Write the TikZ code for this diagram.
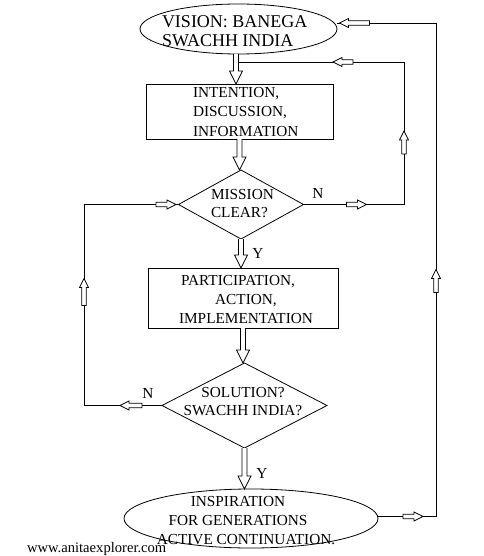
\documentclass[tikz,border=0pt]{standalone}
\usepackage{fontspec}
\setmainfont{Liberation Serif}
\usetikzlibrary{shapes.geometric,calc,decorations.markings}
\newcommand\mkarrow[1][20]{\draw[fill=white,line width=0.7pt] (0,0) -- (-9pt,4.5pt) -- (-9pt,2.2pt) -- (-#1pt,2.2pt) -- (-#1pt,-2.2pt) -- (-9pt,-2.2pt) -- (-9pt,-4.5pt) -- cycle;}
\begin{document}
\begin{tikzpicture}[x=1pt,y=-1pt,line width=0.8pt,
  every node/.style={inner sep=0pt,outer sep=0pt},
  txt/.style={font=\fontsize{15.3}{18.8}\selectfont},
  bigtxt/.style={font=\fontsize{18}{19.5}\selectfont},
  oval/.style={draw,ellipse},
  box/.style={draw,rectangle},
  dia/.style={draw,diamond},
  hollow/.style={draw,fill=white,line width=0.8pt,to path={let \p1=(\tikztostart), \p2=(\tikztotarget) in
     (\x1-2.5pt,\y1) -- (\x1-2.5pt,\y2+13pt) -- (\x1-6.5pt,\y2+13pt) -- (\x1,\y2) -- (\x1+6.5pt,\y2+13pt) -- (\x1+2.5pt,\y2+13pt) -- (\x1+2.5pt,\y1)}},
  loopline/.style={draw,line width=0.8pt}
]
\useasboundingbox (0,0) rectangle (483,556);

% shapes
\node[oval,minimum width=197pt,minimum height=50pt] (e1) at (238.5,29) {};
\node[box,minimum width=187pt,minimum height=55pt] (b1) at (239.5,111.5) {};
\node[dia,minimum width=125pt,minimum height=69pt] (d1) at (241,204.5) {};
\node[box,minimum width=190pt,minimum height=60pt] (b2) at (243,298) {};
\node[dia,minimum width=165pt,minimum height=85pt] (d2) at (244.5,405.5) {};
\node[oval,minimum width=254pt,minimum height=59pt] (e2) at (251,518.5) {};

% texts
\node[bigtxt,anchor=west,align=left] (t0) at (162,31) {VISION: BANEGA\\SWACHH INDIA};
\node[txt,anchor=west,align=left,font=\fontsize{15.3}{19.3}\selectfont] (t1) at (193,112) {INTENTION,\\DISCUSSION,\\INFORMATION};
\node[txt,anchor=west,align=left,font=\fontsize{15.3}{18}\selectfont] (td1) at (211,204) {MISSION\\CLEAR?};
\node[txt,align=center] (t2) at (246,299.5) {PARTICIPATION,\hspace*{16pt}\\ACTION,\\IMPLEMENTATION};
\node[txt,align=center,font=\fontsize{15.3}{18}\selectfont] (td2) at (243,402) {SOLUTION?\\SWACHH INDIA?};
\node[txt,align=center] (t3) at (238,520.5) {INSPIRATION\\FOR GENERATIONS\\\hspace*{16pt}ACTIVE CONTINUATION.};
\node[txt] (n1) at (318,193) {N};
\node[txt] (n2) at (148,393) {N};
\node[txt] (y1) at (258,253) {Y};
\node[txt] (y2) at (262,473) {Y};
\node[font=\fontsize{14.6}{16}\selectfont,anchor=west] (wm) at (27,549) {www.anitaexplorer.com};

% loop corners
\coordinate (c1) at (404,62);
\coordinate (a1r) at (238.5,62);
\coordinate (c2) at (436,23);
\coordinate (c3) at (84,206);

% right loop (mission not clear)
\draw[loopline,postaction={decorate,decoration={markings,
   mark=at position 63pt with {\mkarrow},
   mark=at position 174pt with {\mkarrow[23]},
   mark=at position 314pt with {\mkarrow}}}]
  (d1.east) -| (c1) -- (a1r);

% outer loop
\draw[loopline,postaction={decorate,decoration={markings,
   mark=at position 45pt with {\mkarrow},
   mark=at position 305pt with {\mkarrow[23]},
   mark=at position 648pt with {\mkarrow[30]}}}]
  ([yshift=2pt]e2.east) -| (c2) -- ([yshift=6pt]e1.east);

% left loop (no solution)
\draw[loopline,postaction={decorate,decoration={markings,
   mark=at position 42pt with {\mkarrow[22]},
   mark=at position 205pt with {\mkarrow[27]},
   mark=at position 371pt with {\mkarrow}}}]
  (d2.west) -| (d1.west -| c3) -- (d1.west);

% main hollow arrows
\draw[hollow] ([xshift=-2.5pt]e1.south) to ([xshift=-2.5pt]b1.north);
\draw[hollow] (b1.south) to (d1.north);
\draw[hollow] (d1.south) to (b2.north);
\draw[hollow] (b2.south) to (d2.north);
\draw[hollow] (d2.south) to (d2.south |- e2.north);
\end{tikzpicture}
\end{document}
